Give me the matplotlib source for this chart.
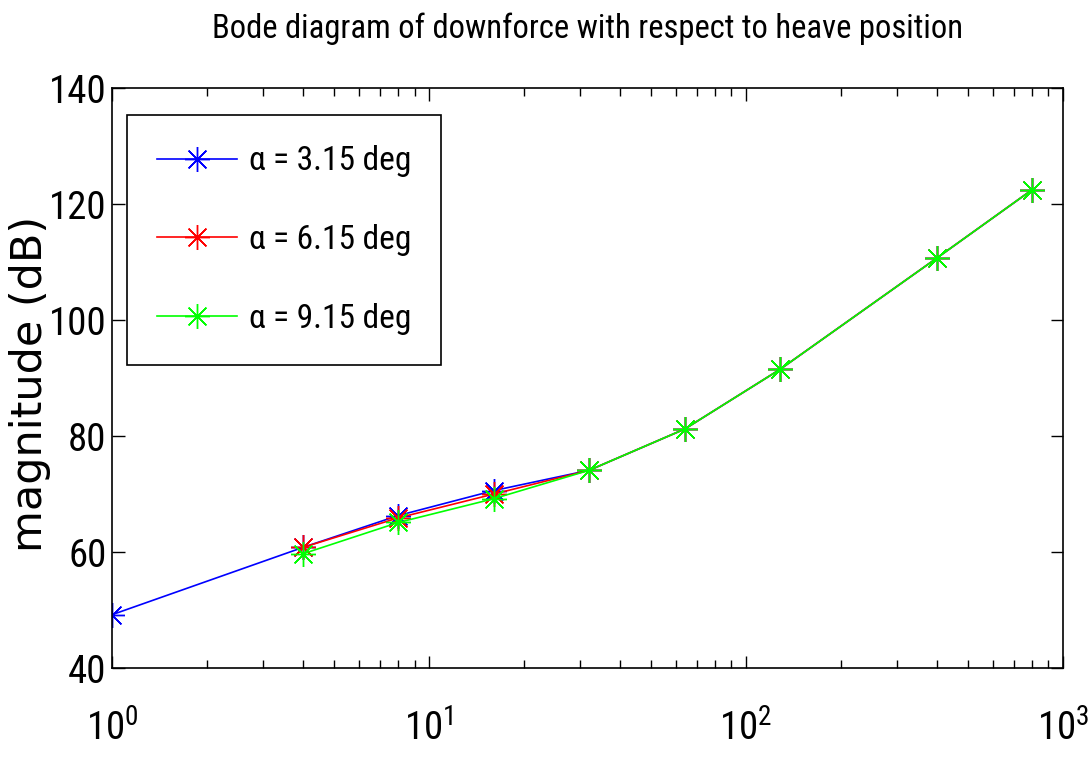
# Bode diagram: downforce magnitude vs heave frequency, three angles of attack
import numpy as np
import matplotlib
matplotlib.use('Agg')
import matplotlib.pyplot as plt

narrow = ['Roboto Condensed', 'DejaVu Sans']
plt.rcParams['font.family'] = narrow
plt.rcParams['mathtext.fontset'] = 'custom'
plt.rcParams['mathtext.rm'] = 'Roboto Condensed'
plt.rcParams['mathtext.it'] = 'Roboto Condensed'

# data
freq = [1, 4, 8, 16, 32, 64, 128, 400, 800]
mag_315 = [49.2, 60.8, 66.3, 70.6, 74.1, 81.2, 91.5, 110.7, 122.5]
freq_b = [4, 8, 16, 32, 64, 128, 400, 800]
mag_615 = [60.8, 65.9, 70.0, 74.1, 81.2, 91.5, 110.7, 122.5]
mag_915 = [59.7, 65.1, 69.2, 74.1, 81.2, 91.5, 110.7, 122.5]
labels = ['α = 3.15 deg', 'α = 6.15 deg', 'α = 9.15 deg']

fig = plt.figure(figsize=(10.91, 7.6), dpi=100)
ax = fig.add_axes([0.1027, 0.121, 0.8716, 0.763])

star = (8, 2, 0)
ax.plot(freq, mag_315, color='#0000ff', lw=1.2, marker=star, ms=18, mew=1.0, label=labels[0])
ax.plot(freq_b, mag_615, color='#ff0000', lw=1.2, marker=star, ms=18, mew=1.0, label=labels[1])
ax.plot(freq_b, mag_915, color='#00ff00', lw=1.2, marker=star, ms=18, mew=1.0, label=labels[2])

ax.set_xscale('log')
ax.set_xlim(1, 1000)
ax.set_ylim(40, 140)
ax.set_yticks([40, 60, 80, 100, 120, 140])

ax.tick_params(which='both', direction='in', top=True, right=True)
ax.tick_params(which='major', length=9, width=1, labelsize=28)
ax.tick_params(which='minor', length=6, width=1)
ax.tick_params(axis='x', which='major', pad=30)
ax.tick_params(axis='y', which='major', pad=4)
for s in ax.spines.values():
    s.set_linewidth(1.2)

ax.set_title('Bode diagram of downforce with respect to heave position', fontsize=23.5, pad=36)
ax.set_ylabel('magnitude (dB)', fontsize=31, family='DejaVu Sans')
ax.yaxis.set_label_coords(-0.064, 0.49)

leg = ax.legend(loc='upper left', bbox_to_anchor=(0.016, 0.953), borderaxespad=0,
                fontsize=24, handlelength=2.4, handletextpad=0.35,
                labelspacing=1.4, borderpad=0.9, fancybox=False, edgecolor='black',
                framealpha=1)
leg.get_frame().set_linewidth(1.2)

fig.savefig('out.png', dpi=100)
